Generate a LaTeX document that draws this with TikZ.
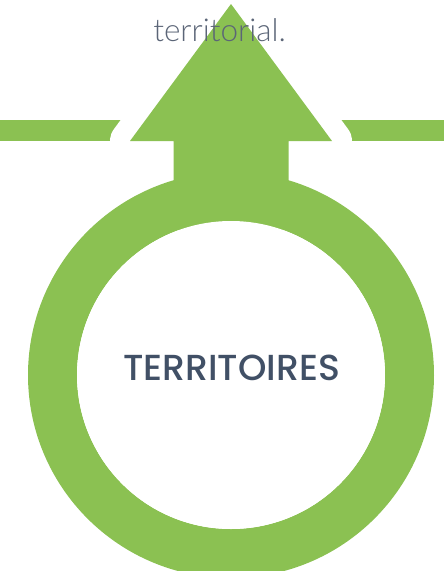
\documentclass[tikz,border=0pt]{standalone}
\usepackage{fontspec}
\newfontfamily\latolight{Lato}[UprightFont=* Light]
\newfontfamily\popmed{Poppins}[UprightFont=* Medium]
\definecolor{leaf}{HTML}{8BC152}
\definecolor{slate}{HTML}{415066}
\definecolor{greytxt}{HTML}{5B6577}
\begin{document}
\begin{tikzpicture}[x=1pt,y=-1pt,
  greenfill/.style={fill=leaf,draw=none},
  arrowshape/.style={fill=leaf,draw=white,line width=40pt,line join=round}]
\useasboundingbox (0,0) rectangle (444,571);
\clip (0,0) rectangle (444,571);
% horizontal bars
\fill[leaf] (0,120) rectangle (200,141);
\fill[leaf] (262,120) rectangle (444,141);
% arrow with white outline
\path[arrowshape] (231,4) -- (332,141) -- (288.5,141) -- (288.5,230) -- (173.5,230) -- (173.5,141) -- (130,141) -- cycle;
\fill[leaf] (231,4) -- (332,141) -- (288.5,141) -- (288.5,230) -- (173.5,230) -- (173.5,141) -- (130,141) -- cycle;
% ring
\fill[leaf,even odd rule] (231,375) circle[radius=203] (231,375) circle[radius=154];
\fill[white] (231,375) circle[radius=154];
\node (top) [anchor=base,inner sep=0,text=greytxt,font=\latolight\fontsize{31.5}{33}\selectfont] at (219.5,41.5) {territorial.};
\node (terr) [anchor=base,inner sep=0,text=slate,font=\popmed\fontsize{36.2}{38}\selectfont] at (231.5,380) {TERRITOIRES};
\end{tikzpicture}
\end{document}
